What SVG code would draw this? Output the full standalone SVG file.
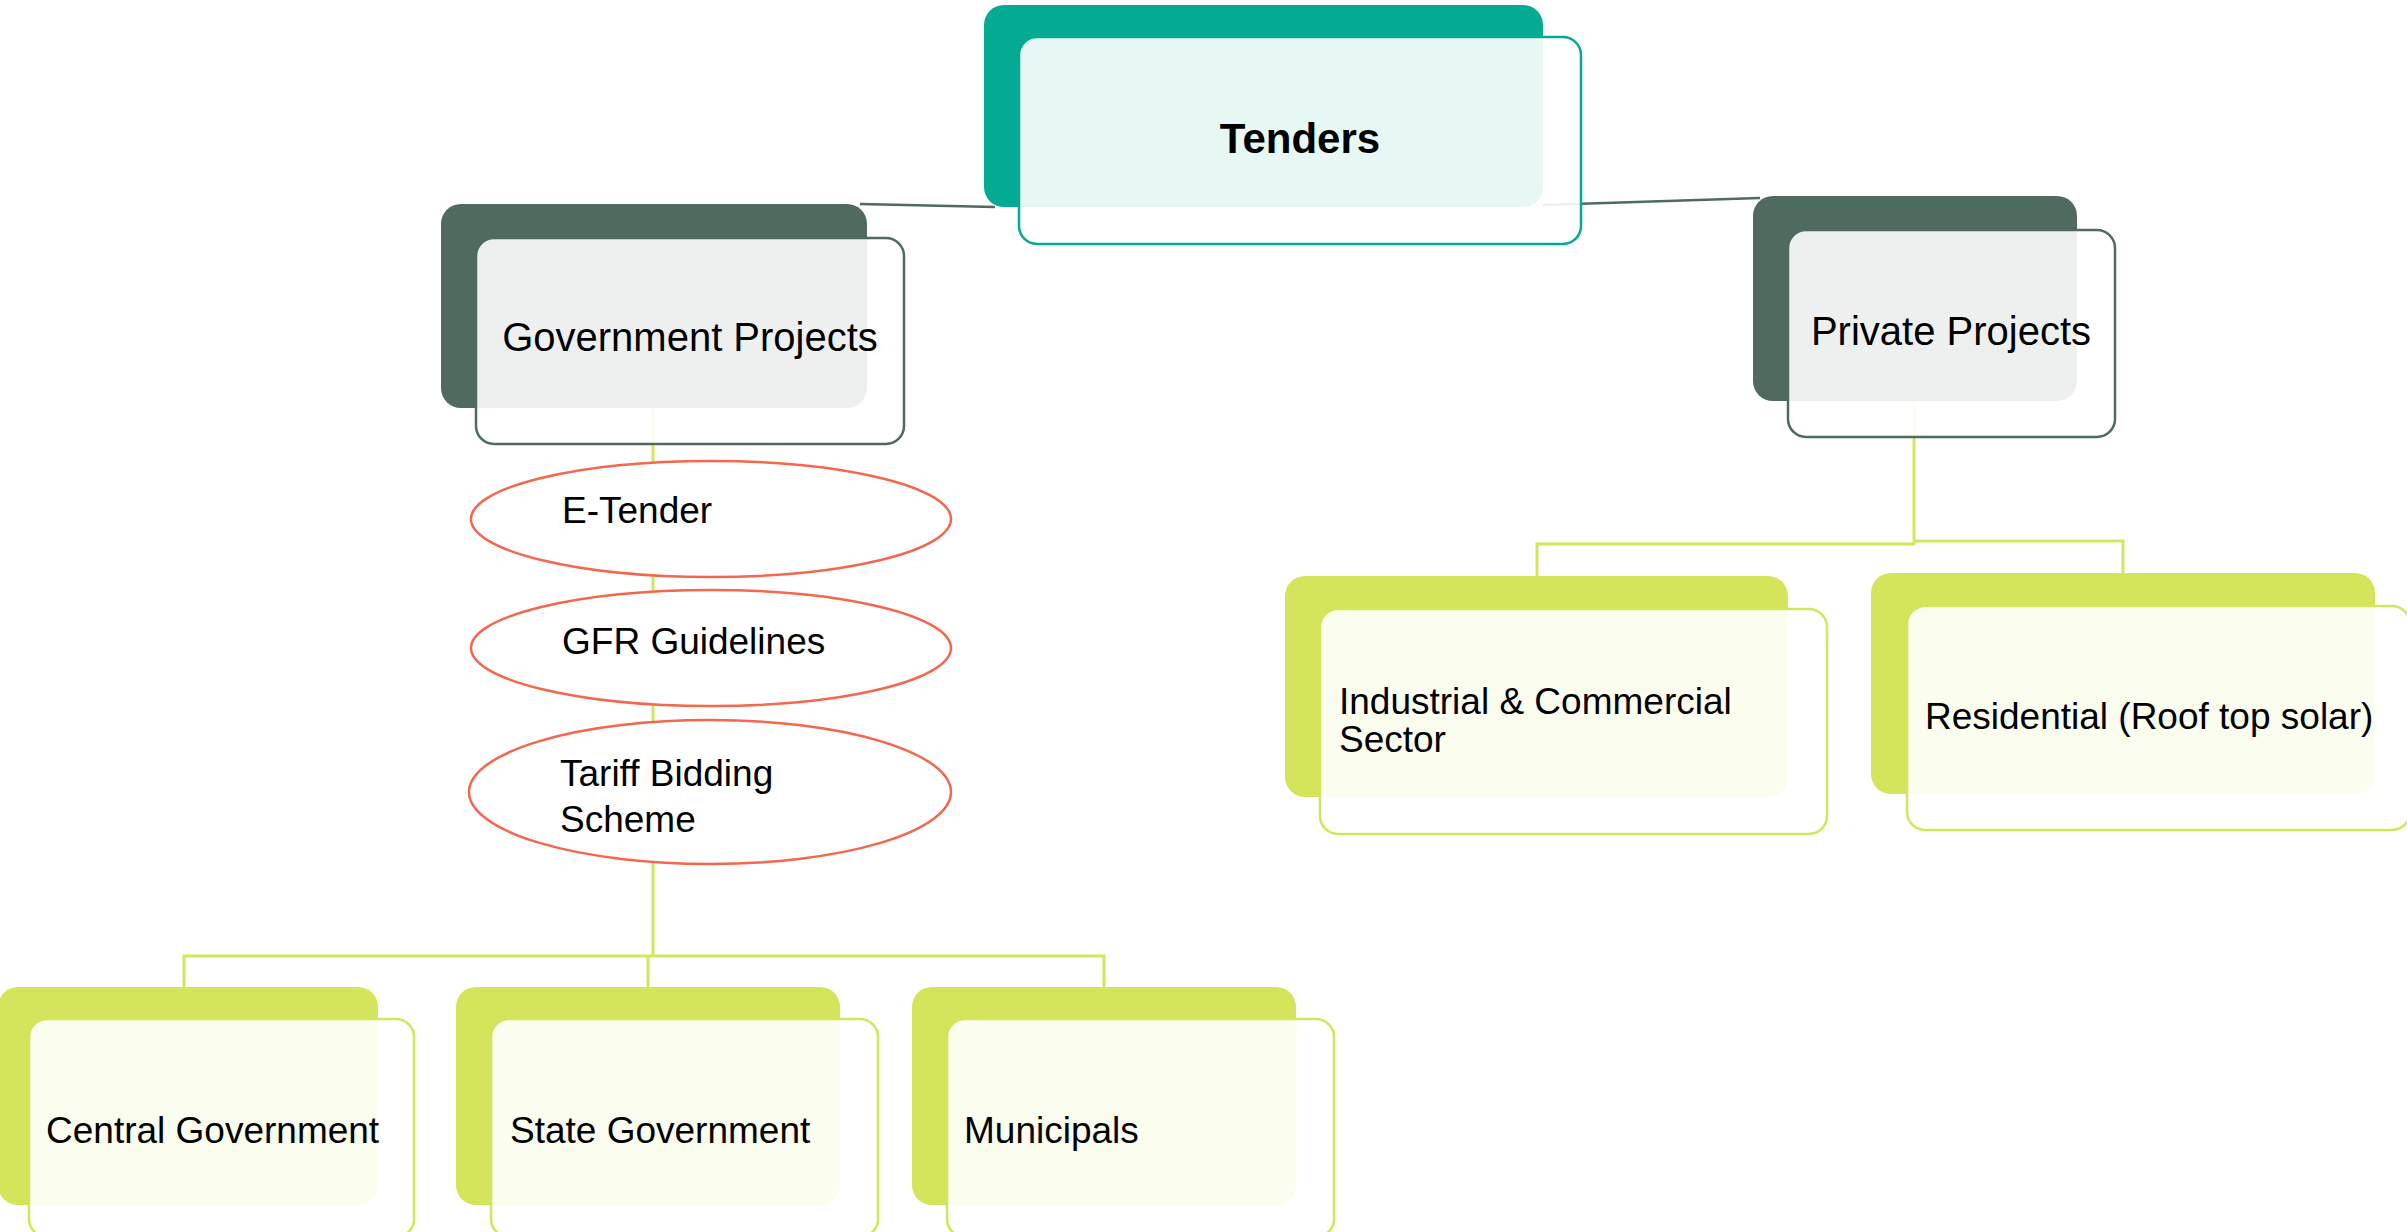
<svg xmlns="http://www.w3.org/2000/svg" width="2407" height="1232" viewBox="0 0 2407 1232">
<style>
.bg{fill:#ffffff}
.teal{fill:#04ab92}
.dark{fill:#4f6a5e}
.lime{fill:#d5e55b}
.front{fill:#ffffff;fill-opacity:0.9;stroke-width:2.5}
.ft{stroke:#04ab92}
.fd{stroke:#4f6a5e}
.fl{stroke:#d5e55b}
.ell{fill:#ffffff;stroke:#f4674c;stroke-width:2.5}
.cd{fill:none;stroke:#4f6a5e;stroke-width:2.5}
.cl{fill:none;stroke:#d5e55b;stroke-width:3}
text{font-family:"Liberation Sans",Arial,sans-serif;fill:#000000}
.t1{font-size:42px;font-weight:bold}
.t2{font-size:40px}
.t3{font-size:37px}
</style>
<rect class="bg" x="0" y="0" width="2407" height="1232"/>
<g id="connectors">
<line class="cd" x1="995" y1="207" x2="860" y2="204"/>
<line class="cd" x1="1543" y1="205" x2="1760" y2="198"/>
<polyline class="cl" points="653,408 653,956"/>
<polyline class="cl" points="184,987 184,956 1104,956 1104,987"/>
<line class="cl" x1="648" y1="956" x2="648" y2="987"/>
<polyline class="cl" points="1914,401 1914,544 1537,544 1537,576"/>
<polyline class="cl" points="1914,541 2123,541 2123,573"/>
</g>
<g id="node-tenders">
<rect class="teal" x="984" y="5" width="559" height="202" rx="20"/>
<rect class="front ft" x="1019" y="37" width="562" height="207" rx="18"/>
<text class="t1" x="1300" y="153" text-anchor="middle">Tenders</text>
</g>
<g id="node-government">
<rect class="dark" x="441" y="204" width="426" height="204" rx="20"/>
<rect class="front fd" x="476" y="238" width="428" height="206" rx="18"/>
<text class="t2" x="690" y="351" text-anchor="middle">Government Projects</text>
</g>
<g id="node-private">
<rect class="dark" x="1753" y="196" width="324" height="205" rx="20"/>
<rect class="front fd" x="1788" y="230" width="327" height="207" rx="18"/>
<text class="t2" x="1951" y="345" text-anchor="middle">Private Projects</text>
</g>
<g id="node-etender">
<ellipse class="ell" cx="711" cy="519" rx="240" ry="58"/>
<text class="t3" x="562" y="523">E-Tender</text>
</g>
<g id="node-gfr">
<ellipse class="ell" cx="711" cy="648" rx="240" ry="58"/>
<text class="t3" x="562" y="654">GFR Guidelines</text>
</g>
<g id="node-tariff">
<ellipse class="ell" cx="710" cy="792" rx="241" ry="72"/>
<text class="t3" x="560" y="786">Tariff Bidding</text>
<text class="t3" x="560" y="832">Scheme</text>
</g>
<g id="node-central">
<rect class="lime" x="-2" y="987" width="380" height="218" rx="20"/>
<rect class="front fl" x="29" y="1019" width="385" height="218" rx="18"/>
<text class="t3" x="46" y="1143">Central Government</text>
</g>
<g id="node-state">
<rect class="lime" x="456" y="987" width="384" height="218" rx="20"/>
<rect class="front fl" x="491" y="1019" width="387" height="218" rx="18"/>
<text class="t3" x="510" y="1143">State Government</text>
</g>
<g id="node-municipals">
<rect class="lime" x="912" y="987" width="384" height="218" rx="20"/>
<rect class="front fl" x="947" y="1019" width="387" height="218" rx="18"/>
<text class="t3" x="964" y="1143">Municipals</text>
</g>
<g id="node-industrial">
<rect class="lime" x="1285" y="576" width="503" height="221" rx="20"/>
<rect class="front fl" x="1320" y="609" width="507" height="225" rx="18"/>
<text class="t3" x="1339" y="714">Industrial &amp; Commercial</text>
<text class="t3" x="1339" y="752">Sector</text>
</g>
<g id="node-residential">
<rect class="lime" x="1871" y="573" width="504" height="221" rx="20"/>
<rect class="front fl" x="1907" y="606" width="503" height="224" rx="18"/>
<text class="t3" x="1925" y="729">Residential (Roof top solar)</text>
</g>
</svg>
